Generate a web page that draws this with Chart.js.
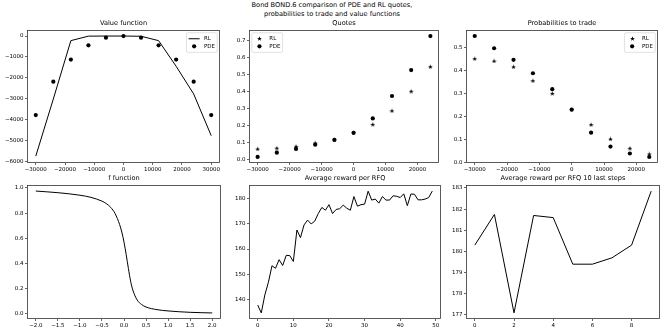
<!DOCTYPE html>
<html>
<head>
<meta charset="utf-8">
<script src="https://cdn.jsdelivr.net/npm/chart.js@4"></script>
<style>
body { margin: 0; width: 664px; height: 332px; background: #fff; position: relative; overflow: hidden; font-family: 'DejaVu Sans'; }
canvas { position: absolute; }
#sup { position: absolute; left: 0; top: 1px; width: 664px; text-align: center; font-size: 6.6px; line-height: 9px; color: #000; }
</style>
</head>
<body>
<div id="sup">Bond BOND.6 comparison of PDE and RL quotes,<br>probabilities to trade and value functions</div>
<canvas id="c1"></canvas>
<canvas id="c2"></canvas>
<canvas id="c3"></canvas>
<canvas id="c4"></canvas>
<canvas id="c5"></canvas>
<canvas id="c6"></canvas>
<script>
// inventory grid
const invX = [-30000, -24000, -18000, -12000, -6000, 0, 6000, 12000, 18000, 24000, 30000];
const valueRL = [-5760, -3020, -220, -5, 0, 0, -10, -220, -1450, -2780, -4780];
const valuePDE = [-3790, -2190, -1130, -444, -80, 0, -80, -444, -1130, -2190, -3790];

const quoteX = [-30000, -24000, -18000, -12000, -6000, 0, 6000, 12000, 18000, 24000];
const quoteRL = [0.06, 0.065, 0.075, 0.095, 0.115, 0.155, 0.205, 0.285, 0.40, 0.545];
const quotePDE = [0.013, 0.038, 0.06, 0.085, 0.113, 0.155, 0.24, 0.372, 0.525, 0.725];

const probRL = [0.45, 0.44, 0.415, 0.355, 0.30, 0.23, 0.165, 0.103, 0.063, 0.038];
const probPDE = [0.548, 0.495, 0.445, 0.387, 0.318, 0.23, 0.13, 0.07, 0.04, 0.025];

// f function
const fX = [-2, -1.5, -1, -0.75, -0.5, -0.4, -0.3, -0.2, -0.1, -0.05, 0, 0.05, 0.1, 0.15, 0.2, 0.3, 0.4, 0.5, 0.75, 1, 1.5, 2];
const fY = [0.975, 0.962, 0.942, 0.925, 0.895, 0.875, 0.845, 0.795, 0.71, 0.65, 0.57, 0.47, 0.36, 0.26, 0.19, 0.11, 0.075, 0.055, 0.034, 0.024, 0.013, 0.008];

// average reward per RFQ, 50 steps
const reward = [137.9, 134.8, 141.9, 146.9, 153.4, 152.4, 155.8, 153.5, 157.5, 157.4,
                155.1, 167.5, 164.5, 169.5, 171.4, 169.9, 171.0, 174.0, 176.4, 175.3,
                177.5, 174.0, 175.6, 175.9, 177.3, 176.1, 175.3, 180.7, 176.9, 177.5,
                177.7, 182.8, 179.3, 179.7, 178.1, 180.7, 179.3, 179.3, 181.0, 180.8,
                180.3, 181.75, 177.1, 181.7, 181.6, 179.4, 179.4, 179.7, 180.3, 182.85];
const last10 = reward.slice(40);

// tick labels
const invTicks = [-30000, -20000, -10000, 0, 10000, 20000, 30000];
const valueTicks = [-6000, -5000, -4000, -3000, -2000, -1000, 0];
const quoteXTicks = [-30000, -20000, -10000, 0, 10000, 20000];
const quoteYTicks = [0, 0.1, 0.2, 0.3, 0.4, 0.5, 0.6, 0.7];
const probYTicks = [0, 0.1, 0.2, 0.3, 0.4, 0.5];
const fXTicks = [-2, -1.5, -1, -0.5, 0, 0.5, 1, 1.5, 2];
const fYTicks = [0, 0.2, 0.4, 0.6, 0.8, 1.0];
const rewardXTicks = [0, 10, 20, 30, 40, 50];
const rewardYTicks = [140, 150, 160, 170, 180];
const lastXTicks = [0, 2, 4, 6, 8];
const lastYTicks = [177, 178, 179, 180, 181, 182, 183];

const FONT = 'DejaVu Sans';
Chart.defaults.font.family = FONT;
Chart.defaults.color = '#000';

const YW = 27, TH = 16, XH = 13, RP = 3;

const minus = s => String(s).replace('-', '\u2212');
const fmtInt = v => minus(Math.round(v));
const fmt1 = v => minus((Math.abs(v) < 1e-9 ? 0 : v).toFixed(1));

// matplotlib-like filled star marker
function makeStar() {
    const c = document.createElement('canvas');
    c.width = 5; c.height = 5;
    const g = c.getContext('2d');
    g.fillStyle = '#000';
    g.beginPath();
    for (let i = 0; i < 10; i++) {
        const r = i % 2 ? 1.0 : 2.5;
        const a = -Math.PI / 2 + i * Math.PI / 5;
        g.lineTo(2.5 + r * Math.cos(a), 2.7 + r * Math.sin(a));
    }
    g.closePath();
    g.fill();
    return c;
}
const star = makeStar();

const xy = (xs, ys) => ys.map((y, i) => ({ x: xs[i], y: y }));

const rlLine = (data) => ({ label: 'RL', data, borderColor: '#000', borderWidth: 1, pointRadius: 0, showLine: true });
const rlStar = (data) => ({ label: 'RL', data, showLine: false, pointStyle: star, pointRadius: 3, borderColor: '#000', backgroundColor: '#000' });
const pdeDot = (data) => ({ label: 'PDE', data, showLine: false, pointStyle: 'circle', pointRadius: 2.1, borderWidth: 0, backgroundColor: '#000', borderColor: '#000' });

// frame + legend in the axes corner
const boxFrame = {
    id: 'boxFrame',
    afterDraw(chart, args, opts) {
        const ctx = chart.ctx, a = chart.chartArea;
        ctx.save();
        ctx.strokeStyle = '#333';
        ctx.lineWidth = 0.8;
        ctx.strokeRect(Math.round(a.left) + 0.5, Math.round(a.top) + 0.5, Math.round(a.right - a.left) - 1, Math.round(a.bottom - a.top) - 1);
        if (opts.where) {
            const items = chart.data.datasets;
            ctx.font = '5.5px ' + FONT;
            const tw = Math.max(...items.map(d => ctx.measureText(d.label).width));
            const w = 2.2 + 11 + 4.4 + tw + 2.2, rowH = 7.6, h = 4.4 + rowH * items.length;
            const x = opts.where === 'right' ? a.right - 2.75 - w : a.left + 2.75;
            const y = a.top + 2.75;
            ctx.fillStyle = 'rgba(255,255,255,0.8)';
            ctx.strokeStyle = '#ccc';
            ctx.lineWidth = 0.6;
            ctx.beginPath();
            ctx.roundRect(x, y, w, h, 1.5);
            ctx.fill();
            ctx.stroke();
            items.forEach((d, i) => {
                const cy = y + 2.2 + rowH * i + rowH / 2;
                const hx = x + 2.2;
                if (d.showLine) {
                    ctx.strokeStyle = '#000';
                    ctx.lineWidth = 1;
                    ctx.beginPath();
                    ctx.moveTo(hx, cy);
                    ctx.lineTo(hx + 11, cy);
                    ctx.stroke();
                } else if (d.pointStyle === star) {
                    ctx.drawImage(star, Math.round(hx + 5.5 - 2.5), Math.round(cy - 2.5));
                } else {
                    ctx.fillStyle = '#000';
                    ctx.beginPath();
                    ctx.arc(hx + 5.5, cy, d.pointRadius, 0, Math.PI * 2);
                    ctx.fill();
                }
                ctx.fillStyle = '#000';
                ctx.textBaseline = 'middle';
                ctx.fillText(d.label, hx + 15.4, cy + 0.3);
            });
        }
        ctx.restore();
    }
};

function axis(s, dir) {
    return {
        type: 'linear', min: s.min, max: s.max,
        grid: { drawOnChartArea: false, drawTicks: true, tickLength: 2, color: '#000', lineWidth: 0.6 },
        border: { display: false },
        ticks: { autoSkip: false, maxRotation: 0, padding: 1.5,
                 font: { size: 5.5 }, color: '#000', callback: s.fmt },
        afterBuildTicks(scale) {
            scale.ticks = s.ticks.map(v => ({ value: v }));
        },
        afterFit(scale) {
            if (dir === 'y') scale.width = YW; else scale.height = XH;
            scale.paddingLeft = scale.paddingRight = scale.paddingTop = scale.paddingBottom = 0;
        }
    };
}

function makePanel(id, box, title, datasets, xs, ys, where) {
    const [L, T, W, H] = box;
    const cv = document.getElementById(id);
    cv.width = W + YW + RP;
    cv.height = H + TH + XH;
    cv.style.left = (L - YW) + 'px';
    cv.style.top = (T - TH) + 'px';
    new Chart(cv, {
        type: 'line',
        data: { datasets },
        options: {
            responsive: false, animation: false,
            layout: { padding: { top: TH - 10.92, right: RP, left: 0, bottom: 0 } },
            elements: { line: { tension: 0 } },
            plugins: {
                legend: { display: false },
                tooltip: { enabled: false },
                title: { display: true, text: title, fullSize: false, color: '#000',
                         font: { size: 6.6, weight: 'normal' }, padding: { top: 0, bottom: 3 } },
                boxFrame: { where }
            },
            scales: { x: axis(xs, 'x'), y: axis(ys, 'y') }
        },
        plugins: [boxFrame]
    });
}

const invAxis = { min: -33000, max: 33000, ticks: invTicks, fmt: fmtInt };
const quoteAxis = { min: -32700, max: 26700, ticks: quoteXTicks, fmt: fmtInt };

makePanel('c1', [27, 30, 194, 133], 'Value function',
    [rlLine(xy(invX, valueRL)), pdeDot(xy(invX, valuePDE))],
    invAxis, { min: -6090, max: 290, ticks: valueTicks, fmt: fmtInt }, 'right');

makePanel('c2', [249, 30, 192, 133], 'Quotes',
    [rlStar(xy(quoteX, quoteRL)), pdeDot(xy(quoteX, quotePDE))],
    quoteAxis, { min: -0.023, max: 0.761, ticks: quoteYTicks, fmt: fmt1 }, 'left');

makePanel('c3', [466, 30, 194, 133], 'Probabilities to trade',
    [rlStar(xy(quoteX, probRL)), pdeDot(xy(quoteX, probPDE))],
    quoteAxis, { min: -0.001, max: 0.574, ticks: probYTicks, fmt: fmt1 }, 'right');

makePanel('c4', [27, 185, 194, 134], 'f function',
    [{ label: 'f', data: xy(fX, fY), borderColor: '#000', borderWidth: 1, pointRadius: 0, cubicInterpolationMode: 'monotone' }],
    { min: -2.2, max: 2.2, ticks: fXTicks, fmt: fmt1 }, { min: -0.040, max: 1.023, ticks: fYTicks, fmt: fmt1 }, null);

makePanel('c5', [249, 185, 192, 134], 'Average reward per RFQ',
    [{ label: 'reward', data: reward.map((v, i) => ({ x: i, y: v })), borderColor: '#000', borderWidth: 1, pointRadius: 0 }],
    { min: -2.45, max: 51.45, ticks: rewardXTicks, fmt: fmtInt }, { min: 132.4, max: 185.25, ticks: rewardYTicks, fmt: fmtInt }, null);

makePanel('c6', [466, 185, 194, 134], 'Average reward per RFQ 10 last steps',
    [{ label: 'last10', data: last10.map((v, i) => ({ x: i, y: v })), borderColor: '#000', borderWidth: 1, pointRadius: 0 }],
    { min: -0.45, max: 9.45, ticks: lastXTicks, fmt: fmtInt }, { min: 176.81, max: 183.14, ticks: lastYTicks, fmt: fmtInt }, null);
</script>
</body>
</html>
